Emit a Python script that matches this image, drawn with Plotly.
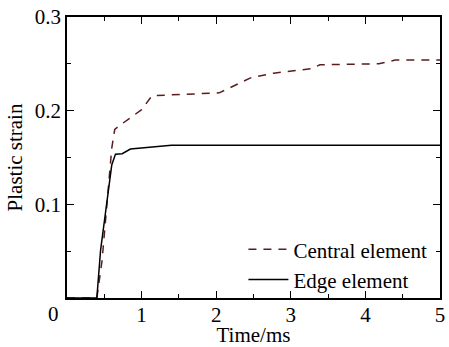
import plotly.graph_objects as go

central_t = [0.0, 0.40, 0.47, 0.60, 0.64, 0.72, 1.00, 1.14, 2.04, 2.46, 2.77, 3.28, 3.39, 4.18, 4.40, 5.00]
central_v = [0.0, 0.0, 0.04, 0.160, 0.180, 0.185, 0.201, 0.216, 0.219, 0.235, 0.240, 0.245, 0.249, 0.250, 0.254, 0.254]

edge_t = [0.0, 0.40, 0.45, 0.60, 0.65, 0.74, 0.85, 1.00, 1.18, 1.40, 5.00]
edge_v = [0.0, 0.0, 0.051, 0.142, 0.1536, 0.154, 0.159, 0.160, 0.162, 0.163, 0.163]

x_ticks = [1, 2, 3, 4, 5]
y_ticks = [0.1, 0.2, 0.3]

font = "Liberation Serif"

fig = go.Figure()
fig.add_trace(go.Scatter(x=central_t, y=central_v, mode="lines", name="Central element",
                         line=dict(color="#5c1c1c", width=1.5, dash="8px,7px")))
fig.add_trace(go.Scatter(x=edge_t, y=edge_v, mode="lines", name="Edge element",
                         line=dict(color="#000000", width=1.5)))

axis_common = dict(showgrid=False, zeroline=False, showline=True, linecolor="black", linewidth=1.5,
                   mirror="allticks", ticks="inside", ticklen=7, tickwidth=1.2, tickcolor="black",
                   tickfont=dict(family=font, size=21, color="black"))

fig.update_xaxes(range=[0, 5], tickvals=x_ticks, ticktext=[str(v) for v in x_ticks],
                 ticklabelstandoff=-3,
                 title=dict(text="Time/ms", font=dict(family=font, size=21, color="black"), standoff=0),
                 minor=dict(dtick=0.5, tick0=0, ticks="inside", ticklen=4, tickwidth=1.2, tickcolor="black"),
                 **axis_common)
fig.update_yaxes(range=[0, 0.3], tickvals=y_ticks, ticktext=["0.1", "0.2", "0.3"],
                 title=dict(text="Plastic strain", font=dict(family=font, size=21, color="black"), standoff=6),
                 minor=dict(dtick=0.05, tick0=0, ticks="inside", ticklen=4, tickwidth=1.2, tickcolor="black"),
                 **axis_common)

fig.add_annotation(text="0", x=0, y=0, xref="paper", yref="paper", showarrow=False,
                   xanchor="center", yanchor="top", xshift=-14, yshift=-2,
                   font=dict(family=font, size=21, color="black"))

fig.update_layout(
    width=449, height=347,
    margin=dict(l=67, r=4, t=17, b=49),
    paper_bgcolor="white", plot_bgcolor="white",
    showlegend=True,
    legend=dict(x=0.473, y=0.245, xanchor="left", yanchor="top", bgcolor="rgba(0,0,0,0)",
                font=dict(family=font, size=21, color="black"), tracegroupgap=0, itemwidth=40),
)

fig.write_html("out.html")
